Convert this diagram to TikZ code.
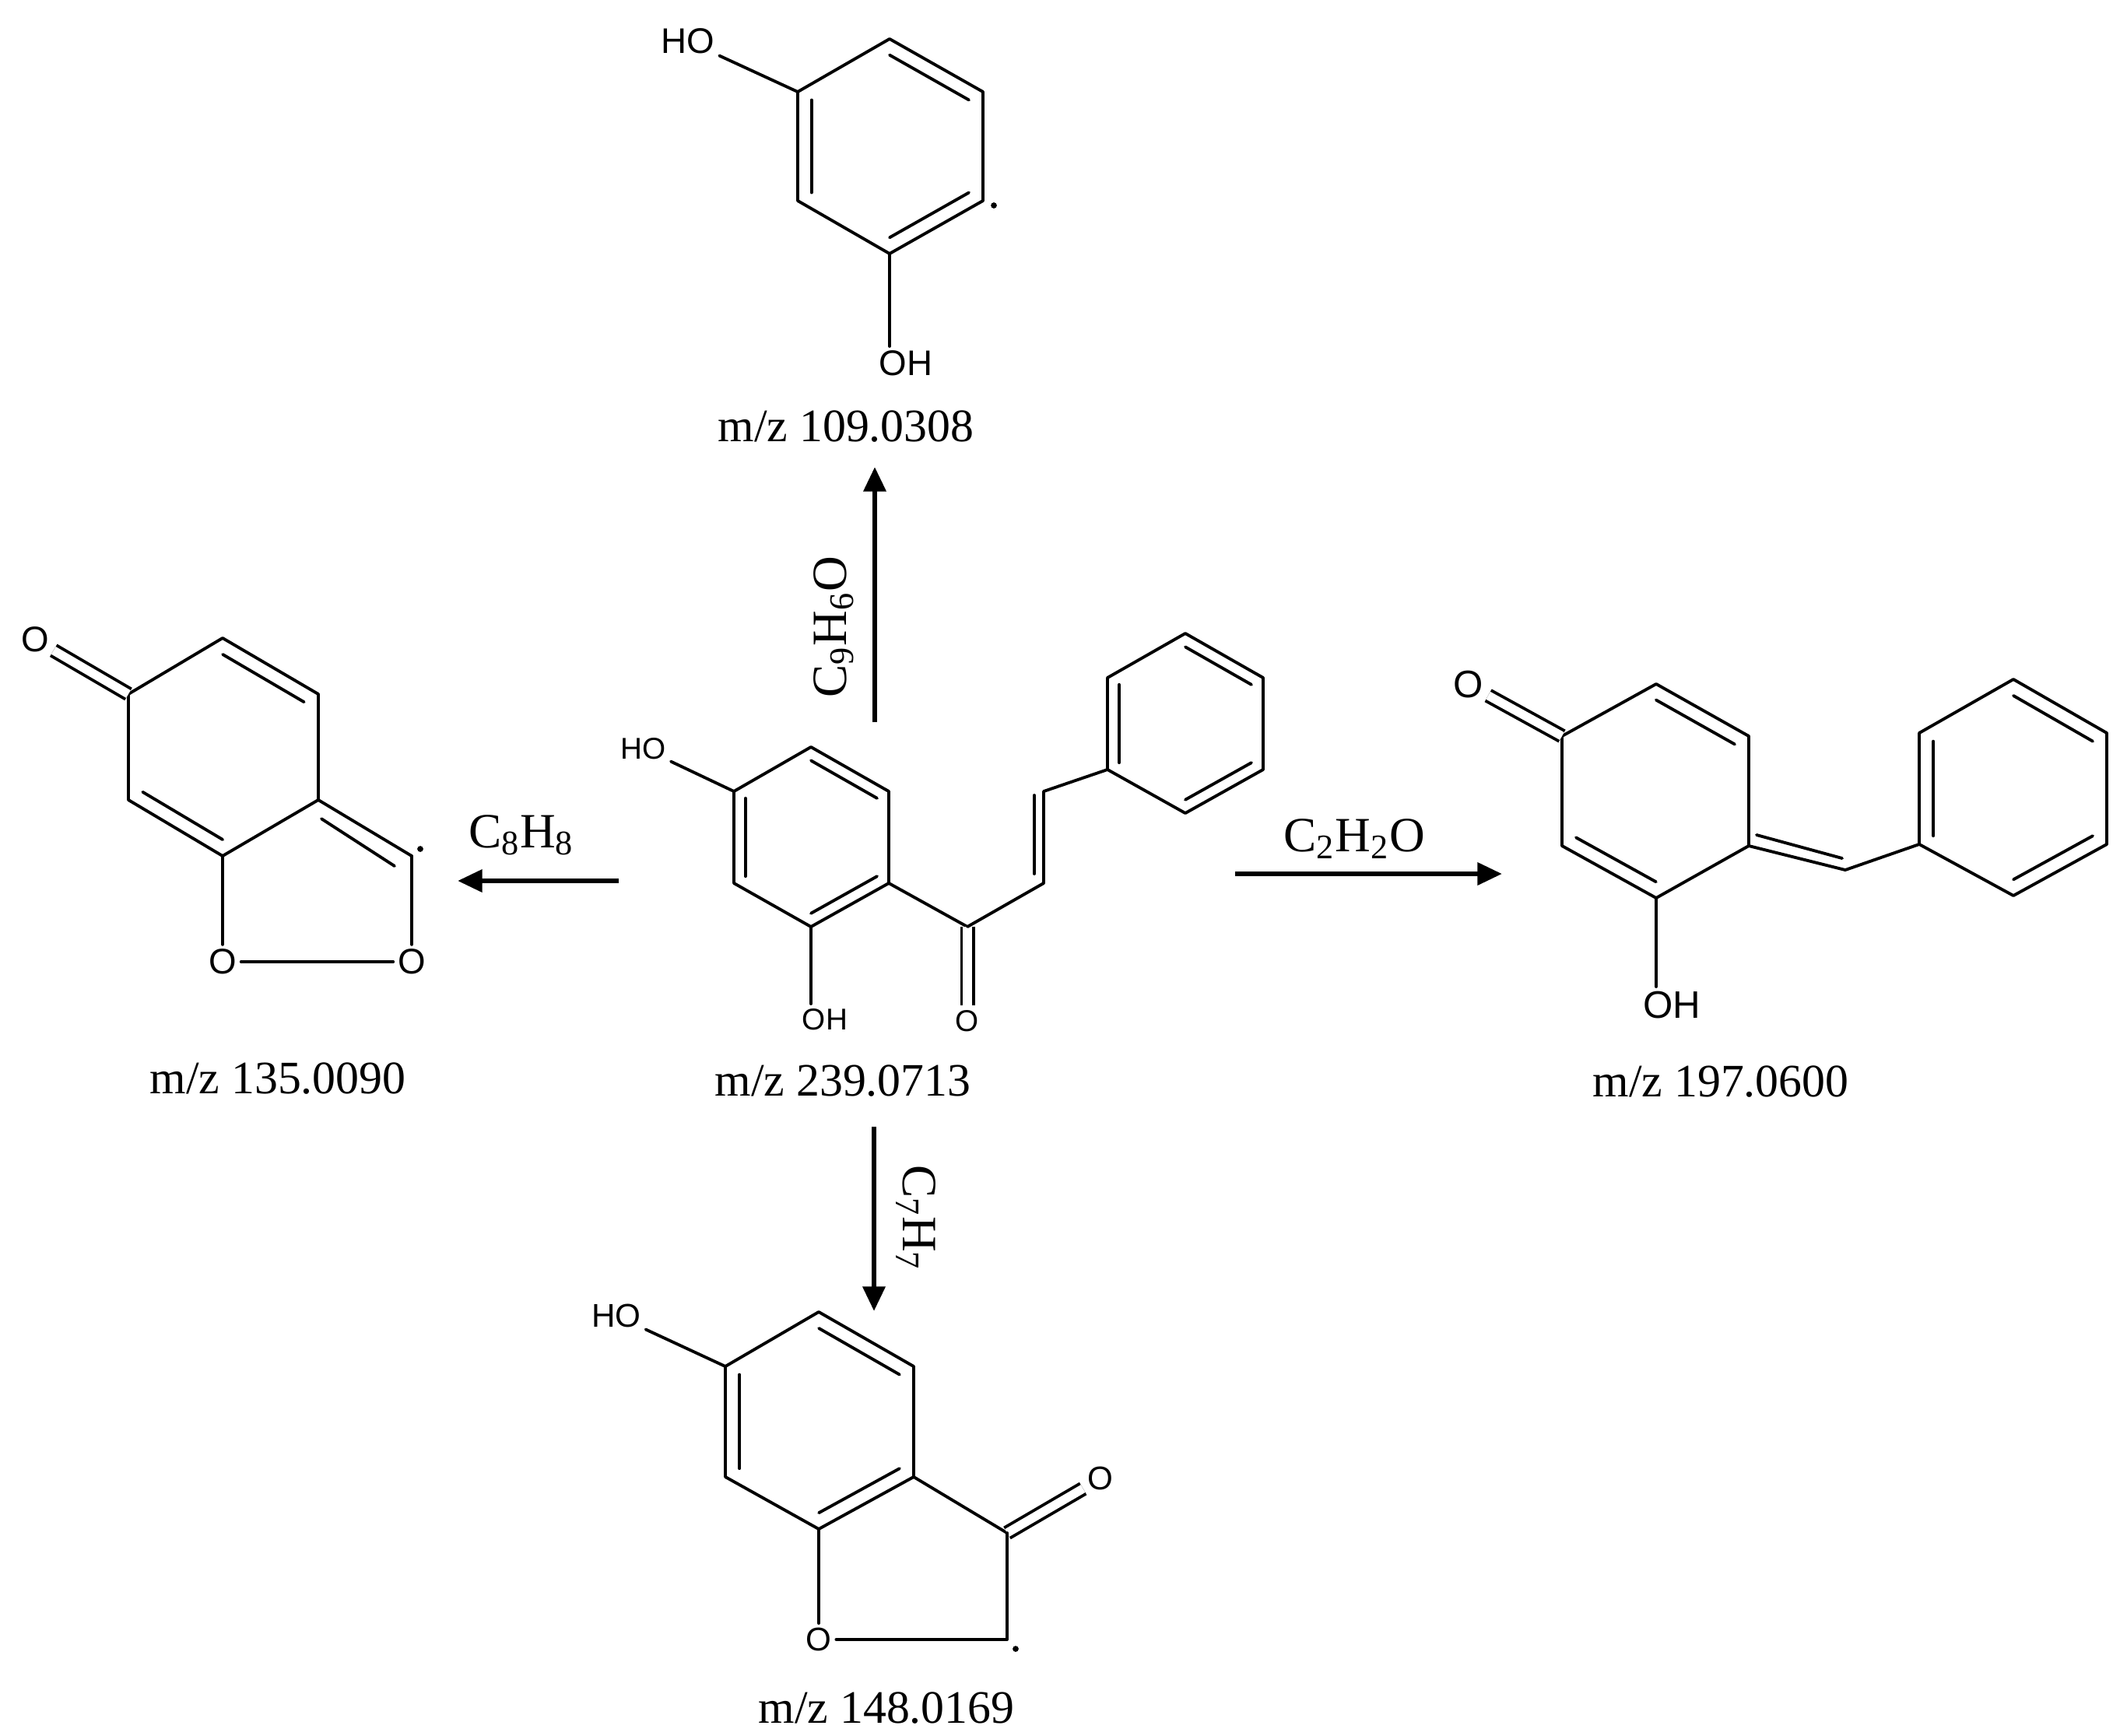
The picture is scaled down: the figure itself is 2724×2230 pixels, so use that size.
\documentclass[tikz,border=0pt]{standalone}
\usepackage{fontspec}
\setmainfont{Liberation Serif}
\newfontfamily\atomfont{Liberation Sans}
\usetikzlibrary{calc,arrows.meta}
\newcommand{\inb}[3]{\draw[bond] ($(#1)!0.15!(#3)$) -- ($(#2)!0.15!(#3)$);}
\begin{document}
\begin{tikzpicture}[x=0.01cm,y=-0.01cm,
  bond/.style={line width=1.1pt,line cap=round,line join=round},
  dbond/.style={bond,double,double distance=3.2pt,line cap=butt},
  arr/.style={line width=1.8pt,-{Triangle[length=9pt,width=8pt]}},
  mz/.style={font=\fontsize{17}{20}\selectfont},
  frm/.style={font=\fontsize{18}{21}\selectfont},
  atm/.style={inner sep=1.5pt,font=\atomfont\fontsize{#1}{#1}\selectfont},
  rad/.style={circle,fill=black,inner sep=0pt,minimum size=2.2pt}]
\useasboundingbox (0,0) rectangle (2724,2230);
% ===== central molecule =====
\coordinate (a1) at (1042,960); \coordinate (a2) at (1142,1017); \coordinate (a3) at (1142,1135);
\coordinate (a4) at (1042,1191); \coordinate (a5) at (943,1135); \coordinate (a6) at (943,1017);
\coordinate (ac) at (1042,1076);
\draw[bond] (a1)--(a2)--(a3)--(a4)--(a5)--(a6)--cycle;
\inb{a1}{a2}{ac} \inb{a5}{a6}{ac} \inb{a3}{a4}{ac}
\node[atm=11] (aHO) at (827,962) {HO};
\node[atm=11,anchor=north west] (aOH) at (1025,1290) {OH};
\draw[bond] (a6)--(aHO); \draw[bond] (a4)--(a4 |- aOH.north);
\coordinate (ck) at (1243,1191);
\node[atm=11] (aO) at (1243,1312) {O};
\draw[bond] (a3)--(ck); \draw[dbond] (ck)--(aO);
\coordinate (ca) at (1341,1135); \coordinate (cb) at (1341,1017);
\draw[bond] (ck)--(ca)--(cb);
\draw[bond] ($(ca)+(-12,-12)$)--($(cb)+(-12,5)$);
\coordinate (p1) at (1423,989); \coordinate (p2) at (1423,871); \coordinate (p3) at (1523,814);
\coordinate (p4) at (1623,871); \coordinate (p5) at (1623,989); \coordinate (p6) at (1523,1045);
\coordinate (pc) at (1523,930);
\draw[bond] (cb)--(p1);
\draw[bond] (p1)--(p2)--(p3)--(p4)--(p5)--(p6)--cycle;
\inb{p1}{p2}{pc} \inb{p3}{p4}{pc} \inb{p5}{p6}{pc}
\node[mz] (mzc) at (1083,1389) {m/z 239.0713};
% ===== top molecule =====
\coordinate (t1) at (1143,50); \coordinate (t2) at (1263,118); \coordinate (t3) at (1263,258);
\coordinate (t4) at (1143,326); \coordinate (t5) at (1025,258); \coordinate (t6) at (1025,118);
\coordinate (tc) at (1143,188);
\draw[bond] (t1)--(t2)--(t3)--(t4)--(t5)--(t6)--cycle;
\inb{t1}{t2}{tc} \inb{t5}{t6}{tc} \inb{t3}{t4}{tc}
\node[atm=13] (tHO) at (884,53) {HO};
\node[atm=13,anchor=north west] (tOH) at (1124,445) {OH};
\draw[bond] (t6)--(tHO); \draw[bond] (t4)--(t4 |- tOH.north);
\node[rad] (tdot) at (1277,264) {};
\node[mz] (mzt) at (1087,548) {m/z 109.0308};
% ===== left molecule =====
\coordinate (l1) at (165,892); \coordinate (l2) at (286,820); \coordinate (l3) at (409,892);
\coordinate (l4) at (409,1028); \coordinate (l5) at (286,1100); \coordinate (l6) at (165,1028);
\coordinate (lc) at (287,960);
\draw[bond] (l1)--(l2)--(l3)--(l4)--(l5)--(l6)--cycle;
\inb{l2}{l3}{lc} \inb{l6}{l5}{lc}
\node[atm=13] (lO) at (45,822) {O};
\draw[dbond] (l1)--(lO);
\coordinate (lr) at (529,1100);
\draw[bond] (l4)--(lr);
\draw[bond] ($(l4)!0.1!(lr)+(-8,17)$)--($(lr)+(-22,13)$);
\node[atm=13] (lO1) at (286,1236) {O};
\node[atm=13] (lO2) at (529,1236) {O};
\draw[bond] (l5)--(lO1); \draw[bond] (lO1)--(lO2); \draw[bond] (lO2)--(lr);
\node[rad] (ldot) at (540,1091) {};
\node[mz] (mzl) at (357,1386) {m/z 135.0090};
% ===== right molecule =====
\coordinate (r1) at (2007,946); \coordinate (r2) at (2128,879); \coordinate (r3) at (2247,946);
\coordinate (r4) at (2247,1087); \coordinate (r5) at (2128,1154); \coordinate (r6) at (2007,1087);
\coordinate (rc) at (2127,1016);
\draw[bond] (r1)--(r2)--(r3)--(r4)--(r5)--(r6)--cycle;
\inb{r2}{r3}{rc} \inb{r6}{r5}{rc}
\node[atm=14] (rO) at (1887,880) {O};
\draw[dbond] (r1)--(rO);
\node[atm=14,anchor=north west] (rOH) at (2105,1268) {OH};
\draw[bond] (r5)--(r5 |- rOH.north);
\coordinate (rch) at (2371,1118);
\draw[bond] (r4)--(rch);
\draw[bond] ($(r4)+(10,-14)$)--($(rch)+(-4,-15)$);
\coordinate (q1) at (2466,1085); \coordinate (q2) at (2466,942); \coordinate (q3) at (2587,873);
\coordinate (q4) at (2707,942); \coordinate (q5) at (2707,1085); \coordinate (q6) at (2587,1151);
\coordinate (qc) at (2587,1013);
\draw[bond] (rch)--(q1);
\draw[bond] (q1)--(q2)--(q3)--(q4)--(q5)--(q6)--cycle;
\inb{q1}{q2}{qc} \inb{q3}{q4}{qc} \inb{q5}{q6}{qc}
\node[mz] (mzr) at (2211,1390) {m/z 197.0600};
% ===== bottom molecule =====
\coordinate (b1) at (1052,1686); \coordinate (b2) at (1174,1756); \coordinate (b3) at (1174,1898);
\coordinate (b4) at (1052,1965); \coordinate (b5) at (932,1898); \coordinate (b6) at (932,1756);
\coordinate (bc) at (1053,1826);
\draw[bond] (b1)--(b2)--(b3)--(b4)--(b5)--(b6)--cycle;
\inb{b1}{b2}{bc} \inb{b5}{b6}{bc} \inb{b3}{b4}{bc}
\node[atm=12] (bHO) at (792,1691) {HO};
\draw[bond] (b6)--(bHO);
\coordinate (bk) at (1294,1970);
\node[atm=12] (bO) at (1414,1900) {O};
\draw[bond] (b3)--(bk); \draw[dbond] (bk)--(bO);
\coordinate (bch) at (1294,2107);
\node[atm=12] (bOr) at (1052,2107) {O};
\draw[bond] (bk)--(bch)--(bOr); \draw[bond] (b4)--(bOr);
\node[rad] (bdot) at (1305,2119) {};
\node[mz] (mzb) at (1139,2195) {m/z 148.0169};
% ===== arrows =====
\coordinate (uS) at (1124,928); \coordinate (uE) at (1124,600);
\draw[arr] (uS)--(uE);
\node[frm,rotate=90] (f1) at (1071,806) {C\textsubscript{9}H\textsubscript{6}O};
\coordinate (lS) at (795,1132); \coordinate (lE) at (588,1132);
\draw[arr] (lS)--(lE);
\node[frm] (f2) at (670,1073) {C\textsubscript{8}H\textsubscript{8}};
\coordinate (rS) at (1587,1123); \coordinate (rE) at (1930,1123);
\draw[arr] (rS)--(rE);
\node[frm] (f3) at (1740,1078) {C\textsubscript{2}H\textsubscript{2}O};
\coordinate (dS) at (1123,1448); \coordinate (dE) at (1123,1685);
\draw[arr] (dS)--(dE);
\node[frm,rotate=-90] (f4) at (1177,1565) {C\textsubscript{7}H\textsubscript{7}};
\end{tikzpicture}
\end{document}
